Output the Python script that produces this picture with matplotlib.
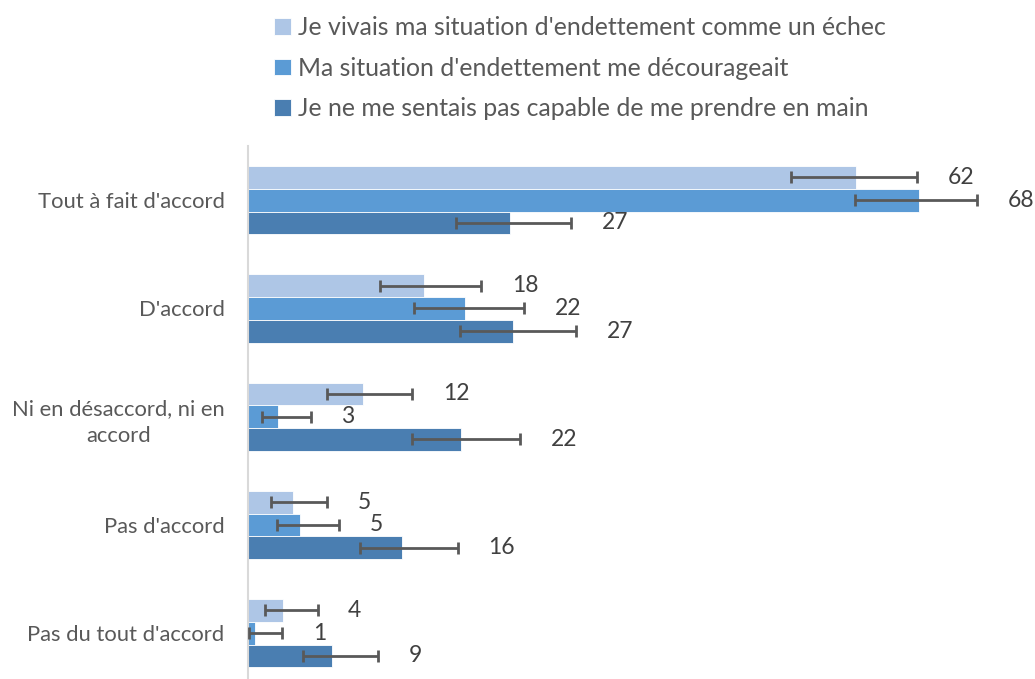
import matplotlib.pyplot as plt
import numpy as np

plt.rcParams["font.family"] = ["Lato", "DejaVu Sans"]

categories = [
    "Tout à fait d'accord",
    "D'accord",
    "Ni en désaccord, ni en\naccord",
    "Pas d'accord",
    "Pas du tout d'accord",
]
series = [
    "Je vivais ma situation d'endettement comme un échec",
    "Ma situation d'endettement me décourageait",
    "Je ne me sentais pas capable de me prendre en main",
]
# percentages per series, one value per category
echec = [61.7, 17.9, 11.7, 4.6, 3.6]
decourage = [68.0, 22.0, 3.1, 5.3, 0.8]
capable = [26.6, 26.9, 21.6, 15.7, 8.6]
# asymmetric error bars (lower, upper)
echec_lo = [6.6, 4.5, 3.6, 2.2, 1.8]
echec_hi = [6.1, 5.8, 5.0, 3.5, 3.5]
decourage_lo = [6.4, 5.1, 1.6, 2.3, 0.6]
decourage_hi = [5.9, 6.0, 3.3, 4.0, 2.7]
capable_lo = [5.5, 5.4, 4.9, 4.3, 3.0]
capable_hi = [6.2, 6.4, 6.0, 5.6, 4.6]

colors = ["#AEC6E6", "#5B9BD5", "#4A7EB1"]
text_c = "#595959"

values = [echec, decourage, capable]
lows = [echec_lo, decourage_lo, capable_lo]
highs = [echec_hi, decourage_hi, capable_hi]

fig = plt.figure(figsize=(10.35, 6.79), dpi=100)
W, H = 1035, 679
x0, xmax, px_per = 247.5, 78, 9.87
top = 146
ax = fig.add_axes([x0 / W, 0, xmax * px_per / W, (H - top) / H])

y = np.arange(len(categories))
h = 0.21
for i, (vals, lo, hi, c) in enumerate(zip(values, lows, highs, colors)):
    pos = y + (i - 1) * h
    ax.barh(pos, vals, height=h, color=c, edgecolor="white", linewidth=0.6,
            label=series[i], zorder=2)
    ax.errorbar(vals, pos, xerr=[lo, hi], fmt="none", ecolor="#595959",
                elinewidth=2, capsize=4.5, capthick=2, zorder=3)
    for v, p, e in zip(vals, pos, hi):
        ax.text(v + e + 3.1, p, f"{v:.0f}", ha="left", va="center",
                fontsize=16.5, color="#404040", clip_on=False)

ax.set_xlim(0, xmax)
ax.set_ylim((H - 200) / 108.3, -0.5)
ax.set_yticks(y)
ax.set_yticklabels(categories, fontsize=15.8, color=text_c,
                   multialignment="center", linespacing=1.45)
ax.tick_params(axis="y", length=0, pad=16.5)
ax.set_xticks([])
for s in ["top", "right", "bottom"]:
    ax.spines[s].set_visible(False)
ax.spines["left"].set_color("#D9D9D9")
ax.spines["left"].set_linewidth(1.5)

fig.legend(loc="upper left", bbox_to_anchor=(252 / W, 1 + 6 / H),
           frameon=False, fontsize=17.9, handlelength=0.65, handleheight=0.65,
           handletextpad=0.3, labelspacing=0.7, labelcolor=text_c)

fig.savefig("out.png", dpi=100, facecolor="white")
